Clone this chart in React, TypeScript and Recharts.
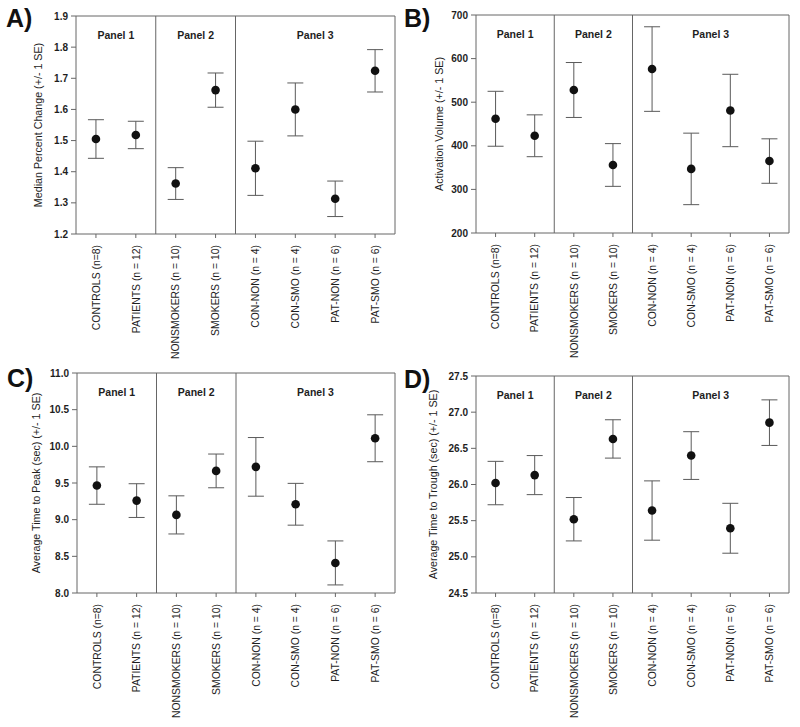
import React from 'react';
import {
  ScatterChart,
  Scatter,
  XAxis,
  YAxis,
  ErrorBar,
  ReferenceLine,
  ReferenceArea,
} from 'recharts';

const categories = [
  'CONTROLS (n=8)',
  'PATIENTS (n = 12)',
  'NONSMOKERS (n = 10)',
  'SMOKERS (n = 10)',
  'CON-NON (n = 4)',
  'CON-SMO (n = 4)',
  'PAT-NON (n = 6)',
  'PAT-SMO (n = 6)',
];
const panelTitles = ['Panel 1', 'Panel 2', 'Panel 3'];

const pctChange = [1.505, 1.518, 1.362, 1.662, 1.411, 1.6, 1.313, 1.724];
const pctChangeSE = [0.062, 0.044, 0.051, 0.055, 0.087, 0.085, 0.057, 0.068];
const pctTicks = [1.2, 1.3, 1.4, 1.5, 1.6, 1.7, 1.8, 1.9];

const actVolume = [462, 423, 528, 356, 576, 347, 481, 365];
const actVolumeSE = [63, 48, 63, 49, 97, 82, 83, 51];
const volTicks = [200, 300, 400, 500, 600, 700];

const timeToPeak = [9.465, 9.26, 9.065, 9.665, 9.72, 9.21, 8.41, 10.11];
const timeToPeakSE = [0.255, 0.23, 0.26, 0.23, 0.4, 0.285, 0.3, 0.32];
const peakTicks = [8.0, 8.5, 9.0, 9.5, 10.0, 10.5, 11.0];

const timeToTrough = [26.02, 26.13, 25.52, 26.63, 25.64, 26.4, 25.395, 26.855];
const timeToTroughSE = [0.3, 0.27, 0.3, 0.265, 0.41, 0.33, 0.345, 0.315];
const troughTicks = [24.5, 25.0, 25.5, 26.0, 26.5, 27.0, 27.5];

const FONT = '"Liberation Sans", Arial, Helvetica, sans-serif';
const AXIS = '#666';
const TEXT = '#1e1e1e';

const XTick = (props: any) => {
  const { x, y, payload } = props;
  return (
    <g transform={`translate(${x},${y})`}>
      <text
        transform="rotate(-90)"
        x={0}
        y={0}
        dy="0.36em"
        textAnchor="end"
        fontSize={10.4}
        fontFamily={FONT}
        fill={TEXT}
      >
        {categories[payload.value]}
      </text>
    </g>
  );
};

type PanelProps = {
  values: number[];
  errors: number[];
  ticks: number[];
  digits: number;
  yTitle: string;
  titleX: number;
  left: number;
  top: number;
  width: number;
  height: number;
  margin: { top: number; right: number; bottom: number; left: number };
  xAxisHeight: number;
  letter: string;
  letterLeft: number;
  letterTop: number;
};

const Panel = (p: PanelProps) => {
  const data = p.values.map((v, i) => ({ x: i, y: v, se: p.errors[i] }));
  const yMin = p.ticks[0];
  const yMax = p.ticks[p.ticks.length - 1];
  const sections: [number, number][] = [
    [-0.5, 1.5],
    [1.5, 3.5],
    [3.5, 7.5],
  ];
  return (
    <>
      <div
        style={{
          position: 'absolute',
          left: p.letterLeft,
          top: p.letterTop,
          fontFamily: FONT,
          fontWeight: 'bold',
          fontSize: 25,
          lineHeight: '25px',
          color: '#111',
        }}
      >
        {p.letter}
      </div>
      <div style={{ position: 'absolute', left: p.left, top: p.top }}>
        <ScatterChart width={p.width} height={p.height} margin={p.margin}>
          <XAxis
            type="number"
            dataKey="x"
            domain={[-0.5, 7.5]}
            ticks={[0, 1, 2, 3, 4, 5, 6, 7]}
            interval={0}
            height={p.xAxisHeight}
            tick={<XTick />}
            tickSize={4}
            tickMargin={7}
            stroke={AXIS}
            axisLine={{ stroke: AXIS }}
            tickLine={{ stroke: AXIS }}
          />
          <YAxis
            type="number"
            dataKey="y"
            domain={[yMin, yMax]}
            ticks={p.ticks}
            interval={0}
            width={60}
            tickSize={5}
            tickMargin={3}
            tickFormatter={(v: number) => v.toFixed(p.digits)}
            tick={{ fontSize: 10, fontWeight: 'bold', fill: TEXT, fontFamily: FONT }}
            axisLine={{ stroke: AXIS }}
            tickLine={{ stroke: AXIS }}
            label={{
              content: (lp: any) => {
                const vb = lp.viewBox || {};
                const cx = p.titleX;
                const cy = vb.y + vb.height / 2;
                return (
                  <text
                    x={cx}
                    y={cy}
                    transform={`rotate(-90, ${cx}, ${cy})`}
                    textAnchor="middle"
                    dy="0.36em"
                    fontSize={10.7}
                    fontFamily={FONT}
                    fill={TEXT}
                  >
                    {p.yTitle}
                  </text>
                );
              },
            }}
          />
          {sections.map((s, i) => (
            <ReferenceArea
              key={i}
              x1={s[0]}
              x2={s[1]}
              y1={yMin}
              y2={yMax}
              fill="none"
              fillOpacity={0}
              stroke="none"
              ifOverflow="visible"
              label={{
                value: panelTitles[i],
                position: 'insideTop',
                offset: 16,
                fontSize: 10.5,
                fontWeight: 'bold',
                fill: TEXT,
                fontFamily: FONT,
              }}
            />
          ))}
          <ReferenceLine x={1.5} stroke={AXIS} strokeWidth={1} />
          <ReferenceLine x={3.5} stroke={AXIS} strokeWidth={1} />
          <ReferenceLine x={7.5} stroke={AXIS} strokeWidth={1} />
          <ReferenceLine y={yMax} stroke={AXIS} strokeWidth={1} />
          <Scatter
            data={data}
            isAnimationActive={false}
            shape={(sp: any) => <circle cx={sp.cx} cy={sp.cy} r={4.3} fill="#111" />}
          >
            <ErrorBar dataKey="se" direction="y" width={8} stroke="#5a5a5a" strokeWidth={1} />
          </Scatter>
        </ScatterChart>
      </div>
    </>
  );
};

export default function App() {
  return (
    <div
      style={{
        position: 'absolute',
        left: 0,
        top: 0,
        width: 800,
        height: 727,
        background: '#fff',
        overflow: 'hidden',
      }}
    >
      <Panel
        values={pctChange}
        errors={pctChangeSE}
        ticks={pctTicks}
        digits={1}
        yTitle="Median Percent Change (+/- 1 SE)"
        titleX={38}
        left={0}
        top={0}
        width={400}
        height={370}
        margin={{ top: 16, right: 5, bottom: 0, left: 16 }}
        xAxisHeight={136}
        letter="A)"
        letterLeft={6}
        letterTop={6}
      />
      <Panel
        values={actVolume}
        errors={actVolumeSE}
        ticks={volTicks}
        digits={0}
        yTitle="Activation Volume (+/- 1 SE)"
        titleX={39}
        left={400}
        top={0}
        width={400}
        height={370}
        margin={{ top: 15, right: 11, bottom: 0, left: 16 }}
        xAxisHeight={137}
        letter="B)"
        letterLeft={404}
        letterTop={6}
      />
      <Panel
        values={timeToPeak}
        errors={timeToPeakSE}
        ticks={peakTicks}
        digits={1}
        yTitle="Average Time to Peak (sec) (+/- 1 SE)"
        titleX={36}
        left={0}
        top={360}
        width={400}
        height={367}
        margin={{ top: 13, right: 5, bottom: 0, left: 17 }}
        xAxisHeight={134}
        letter="C)"
        letterLeft={7}
        letterTop={366}
      />
      <Panel
        values={timeToTrough}
        errors={timeToTroughSE}
        ticks={troughTicks}
        digits={1}
        yTitle="Average Time to Trough (sec) (+/- 1 SE)"
        titleX={33}
        left={400}
        top={360}
        width={400}
        height={367}
        margin={{ top: 16, right: 11, bottom: 0, left: 16 }}
        xAxisHeight={134}
        letter="D)"
        letterLeft={404}
        letterTop={367}
      />
    </div>
  );
}
